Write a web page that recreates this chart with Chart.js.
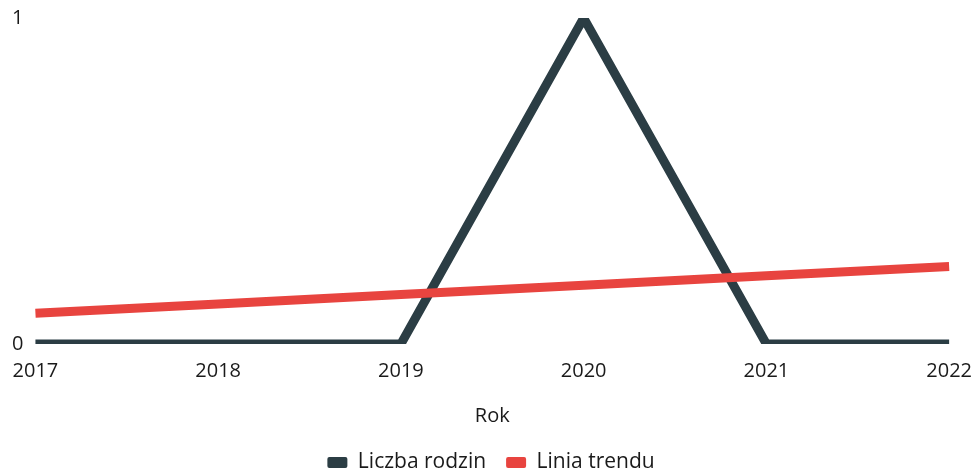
<!DOCTYPE html>
<html>
<head>
<meta charset="utf-8">
<script src="https://cdn.jsdelivr.net/npm/chart.js@4/dist/chart.umd.min.js"></script>
<style>
  html, body { margin: 0; padding: 0; background: #fff; }
  #wrap { width: 979px; height: 473px; }
</style>
</head>
<body>
<div id="wrap"><canvas id="chart" width="979" height="473"></canvas></div>
<script>
// dane
const years = ['2017', '2018', '2019', '2020', '2021', '2022'];
const liczbaRodzin = [0, 0, 0, 1, 0, 0];
const liniaTrendu = [0.094, 0.123, 0.152, 0.18, 0.209, 0.238];

const font = { family: 'Open Sans', size: 20 };
const textColor = '#1a1a1a';

// legenda bez grubej obw칩dki z borderWidth linii
const defaultLabels = Chart.defaults.plugins.legend.labels.generateLabels;

const ctx = document.getElementById('chart').getContext('2d');
new Chart(ctx, {
    type: 'line',
    data: {
        labels: years,
        datasets: [{
            label: 'Liczba rodzin',
            data: liczbaRodzin,
            borderColor: '#2b3d44',
            backgroundColor: '#2b3d44',
            borderWidth: 9,
            pointRadius: 0,
            tension: 0,
            borderJoinStyle: 'miter',
            order: 1
        }, {
            label: 'Linia trendu',
            data: liniaTrendu,
            borderColor: '#e8443f',
            backgroundColor: '#e8443f',
            borderWidth: 9,
            pointRadius: 0,
            tension: 0,
            order: 0  // czerwona linia na wierzchu
        }]
    },
    options: {
        responsive: false,
        animation: false,
        layout: { padding: { top: 18, right: 5, left: 8, bottom: -10 } },
        plugins: {
            legend: {
                position: 'bottom',
                labels: {
                    color: textColor,
                    font: { family: 'Open Sans', size: 21 },
                    boxWidth: 20,
                    boxHeight: 11,
                    padding: 20,
                    useBorderRadius: true,
                    borderRadius: 2,
                    sort: (a, b) => a.datasetIndex - b.datasetIndex,
                    generateLabels: (chart) => defaultLabels(chart).map(item => {
                        item.lineWidth = 0;
                        return item;
                    })
                }
            },
            tooltip: { enabled: false }
        },
        scales: {
            x: {
                grid: { display: false },
                border: { display: false },
                ticks: {
                    color: textColor,
                    font: font,
                    maxRotation: 0,
                    padding: 7
                },
                title: {
                    display: true,
                    text: 'Rok',
                    color: textColor,
                    font: font,
                    padding: { top: 14, bottom: 4 }
                }
            },
            y: {
                min: 0,
                max: 1,
                grid: { display: false },
                border: { display: false },
                ticks: {
                    stepSize: 1,
                    color: textColor,
                    font: font,
                    padding: 4
                }
            }
        }
    }
});
</script>
</body>
</html>
